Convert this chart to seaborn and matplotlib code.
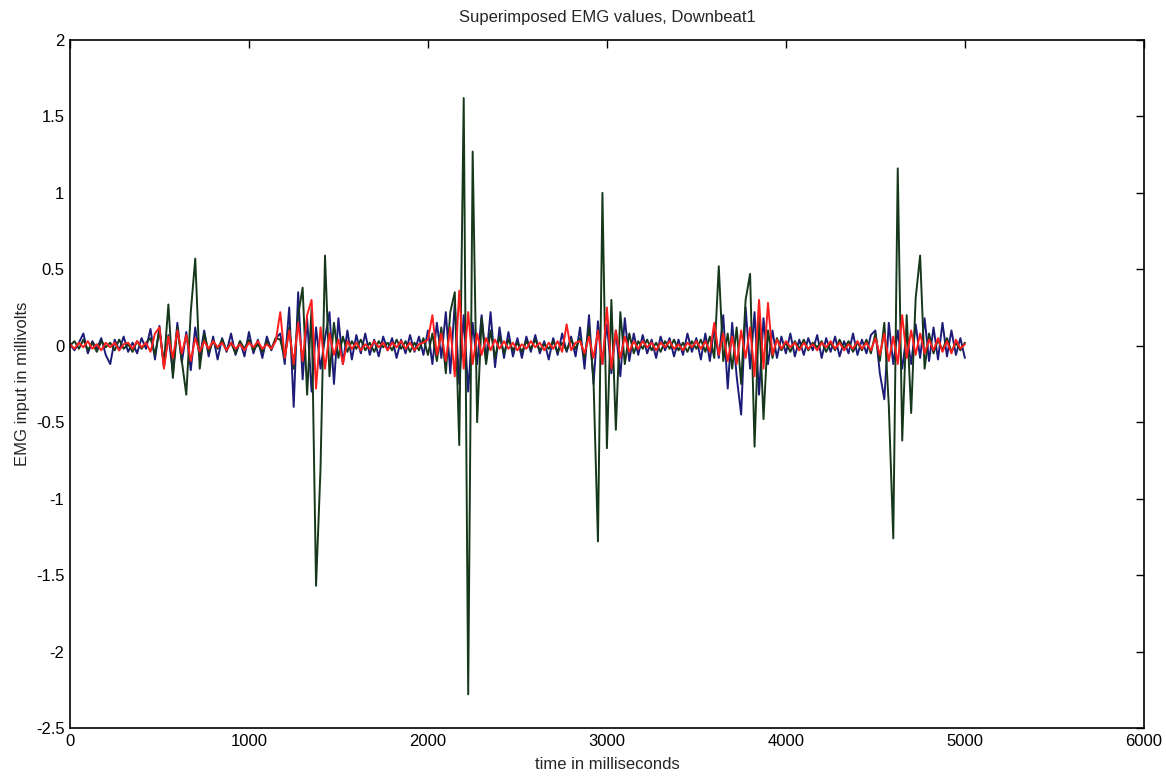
import numpy as np
import pandas as pd
import matplotlib
matplotlib.use("Agg")
import matplotlib.pyplot as plt
import seaborn as sns

# time axis: samples every 25 ms from 0 to 5000 ms
time_ms = list(range(0, 5001, 25))

blue_mv = [
    0.01, -0.03, 0.02, 0.08, -0.05, 0.03, -0.02, 0.05, -0.06, -0.12, 0.04, -0.03, 0.06, -0.04, 0.02, -0.05, 0.05, -0.02,
    0.11, -0.09, 0.13, -0.14, 0.07, -0.18, 0.15, -0.11, 0.09, -0.16, 0.12, -0.08, 0.10,
    -0.07, 0.06, -0.09, 0.05, -0.04, 0.08, -0.06, 0.03, -0.07, 0.09, -0.05, 0.04, -0.08, 0.06, -0.03, 0.05,
    0.08, -0.12, 0.25, -0.40, 0.35, -0.22, 0.18, -0.30, 0.12, -0.15, 0.05, 0.22, -0.25, 0.18, -0.12, 0.10,
    -0.09, 0.07, -0.05, 0.08, -0.06, 0.04, -0.07, 0.06, -0.03, 0.05, -0.08, 0.04, -0.05, 0.07, -0.04, 0.06, -0.06,
    0.10, -0.12, 0.15, -0.08, 0.22, -0.18, 0.28, -0.25, 0.20, -0.30, 0.15, -0.12, 0.20, -0.10, 0.22, -0.14, 0.12, -0.08, 0.09,
    -0.07, 0.05, -0.08, 0.06, -0.04, 0.07, -0.05, 0.03, -0.09, 0.05, -0.06, 0.08, -0.04, 0.06, -0.07,
    0.12, -0.15, 0.20, -0.25, 0.16, -0.12, 0.14, -0.18, 0.10, -0.20, 0.18, -0.10, 0.08,
    -0.06, 0.07, -0.05, 0.04, -0.08, 0.06, -0.03, 0.05, -0.07, 0.04, -0.06, 0.08, -0.04, 0.05, -0.09,
    0.08, -0.10, 0.12, -0.08, 0.20, -0.28, 0.15, -0.20, -0.45, 0.25, -0.15, 0.22, -0.32, 0.18, -0.12, 0.10, -0.08,
    0.06, -0.05, 0.08, -0.07, 0.04, -0.06, 0.05, -0.03, 0.07, -0.08, 0.05, -0.04, 0.06, -0.07, 0.03, -0.05, 0.08, -0.06, 0.04, -0.05, 0.07,
    0.10, -0.18, -0.35, 0.15, -0.12, 0.10, -0.15, 0.08, -0.12, 0.14, -0.08, 0.18, -0.10,
    0.12, -0.09, 0.15, -0.07, 0.10, -0.06, 0.05, -0.08,
]

green_mv = [
    0.00, 0.03, -0.02, 0.04, -0.03, 0.02, -0.04, 0.03, -0.01, 0.02, -0.03, 0.04, -0.02, 0.01, -0.04, 0.03, -0.02, 0.02,
    0.05, -0.06, 0.10, -0.12, 0.27, -0.21, 0.12, -0.10, -0.32, 0.22, 0.57, -0.15, 0.08,
    -0.04, 0.03, -0.02, 0.04, -0.03, 0.02, -0.05, 0.03, -0.02, 0.04, -0.03, 0.01, -0.04, 0.03, -0.02, 0.05,
    0.04, -0.08, 0.12, -0.15, 0.20, 0.38, -0.32, 0.25, -1.57, -0.80, 0.59, -0.20, 0.15, -0.08, 0.06, -0.04,
    0.03, -0.02, 0.04, -0.03, 0.02, -0.04, 0.03, -0.01, 0.02, -0.03, 0.04, -0.02, 0.03, -0.04, 0.02, -0.03, 0.05,
    -0.06, 0.08, -0.10, 0.12, -0.18, 0.22, 0.35, -0.65, 1.62, -2.28, 1.27, -0.50, 0.18, -0.12, 0.10, -0.08, 0.06, -0.05, 0.04,
    -0.03, 0.02, -0.04, 0.03, -0.02, 0.04, -0.03, 0.01, -0.02, 0.03, -0.04, 0.02, -0.03, 0.04, -0.02,
    0.05, -0.08, 0.12, -0.22, -1.28, 1.00, -0.67, 0.30, -0.55, 0.22, -0.12, 0.08, -0.05,
    0.03, -0.02, 0.04, -0.03, 0.02, -0.04, 0.03, -0.02, 0.04, -0.03, 0.02, -0.04, 0.03, -0.02, 0.04,
    -0.04, 0.06, -0.08, 0.52, -0.10, 0.08, -0.15, 0.12, -0.25, 0.30, 0.47, -0.66, 0.22, -0.48, 0.10, -0.08, 0.05,
    -0.03, 0.02, -0.04, 0.03, -0.02, 0.04, -0.03, 0.02, -0.01, 0.03, -0.04, 0.02, -0.03, 0.04, -0.02, 0.03, -0.04, 0.02, -0.03, 0.04, -0.05,
    0.08, -0.10, 0.15, -0.39, -1.26, 1.16, -0.62, 0.20, -0.44, 0.31, 0.59, -0.15, 0.08,
    -0.05, 0.04, -0.03, 0.05, -0.04, 0.02, -0.03, 0.02,
]

red_mv = [
    0.01, -0.02, 0.02, -0.01, 0.03, -0.02, 0.01, -0.03, 0.02, -0.01, 0.02, -0.03, 0.01, 0.02, -0.02, 0.03, -0.01, 0.02,
    -0.04, 0.08, 0.12, -0.15, 0.06, -0.08, 0.10, -0.05, 0.07, -0.10, 0.05, -0.04, 0.03,
    -0.02, 0.03, -0.01, 0.02, -0.03, 0.02, -0.02, 0.01, -0.03, 0.02, -0.01, 0.03, -0.02, 0.01, -0.02, 0.03,
    0.22, -0.08, 0.10, -0.12, 0.15, -0.10, 0.20, 0.30, -0.28, 0.12, -0.15, 0.08, -0.06, 0.04, -0.12, 0.03,
    -0.02, 0.02, -0.03, 0.01, -0.02, 0.03, -0.01, 0.02, -0.03, 0.02, -0.01, 0.03, -0.02, 0.02, -0.03, 0.01, 0.02,
    0.04, 0.20, -0.06, 0.08, -0.10, 0.12, -0.20, 0.36, -0.15, 0.22, -0.12, 0.08, -0.06, 0.05, -0.03, 0.04, -0.02, 0.03, -0.02,
    0.02, -0.03, 0.01, -0.02, 0.03, -0.01, 0.02, -0.03, 0.02, -0.02, 0.03, -0.04, 0.14, -0.03, 0.02,
    0.03, -0.05, 0.06, -0.08, 0.10, -0.12, 0.25, -0.15, 0.10, -0.08, 0.06, -0.04, 0.03,
    -0.02, 0.03, -0.01, 0.02, -0.03, 0.02, -0.01, 0.03, -0.02, 0.01, -0.03, 0.02, -0.01, 0.03, -0.02,
    0.03, -0.04, 0.15, -0.06, 0.08, -0.10, 0.06, -0.12, 0.10, -0.08, 0.12, -0.20, 0.30, -0.15, 0.28, -0.06, 0.04,
    -0.02, 0.03, -0.01, 0.02, -0.03, 0.02, -0.02, 0.01, -0.03, 0.02, -0.01, 0.03, -0.02, 0.02, -0.03, 0.01, -0.02, 0.03, -0.02, 0.02, -0.03,
    0.05, -0.06, 0.08, -0.10, 0.06, -0.12, 0.20, -0.08, 0.10, -0.06, 0.08, -0.05, 0.04,
    -0.03, 0.05, -0.04, 0.03, -0.05, 0.04, -0.02, 0.01,
]

series_names = ["blue", "green", "red"]
series_colors = {"blue": "#1c1c78", "green": "#16381a", "red": "#ff1e1e"}

x_ticks = [0, 1000, 2000, 3000, 4000, 5000, 6000]
y_ticks = [-2.5, -2, -1.5, -1, -0.5, 0, 0.5, 1, 1.5, 2]
y_tick_labels = ["-2.5", "-2", "-1.5", "-1", "-0.5", "0", "0.5", "1", "1.5", "2"]

df = pd.DataFrame({
    "t": time_ms * 3,
    "v": blue_mv + green_mv + red_mv,
    "series": ["blue"] * len(time_ms) + ["green"] * len(time_ms) + ["red"] * len(time_ms),
})

sns.set_style("white")
plt.rcParams["font.family"] = ["Liberation Sans", "DejaVu Sans"]

fig = plt.figure(figsize=(11.66, 7.76), dpi=100)
ax = fig.add_axes([0.060, 0.0619, 0.921, 0.8866])

sns.lineplot(data=df, x="t", y="v", hue="series", hue_order=series_names,
             palette=series_colors, estimator=None, legend=False,
             linewidth=1.4, ax=ax)

ax.set_xlim(0, 6000)
ax.set_ylim(-2.5, 2)
ax.set_xticks(x_ticks)
ax.set_xticklabels([str(v) for v in x_ticks])
ax.set_yticks(y_ticks)
ax.set_yticklabels(y_tick_labels)
ax.tick_params(direction="in", length=6, width=1, top=True, right=True,
               labelsize=12, colors="black", pad=4)
for s in ax.spines.values():
    s.set_color("black")
    s.set_linewidth(1.2)

ax.set_title("Superimposed EMG values, Downbeat1", fontsize=12, pad=13)
ax.set_xlabel("time in milliseconds", fontsize=12, labelpad=6)
ax.set_ylabel("EMG input in millivolts", fontsize=12, labelpad=4)

fig.savefig("out.png", dpi=100)
